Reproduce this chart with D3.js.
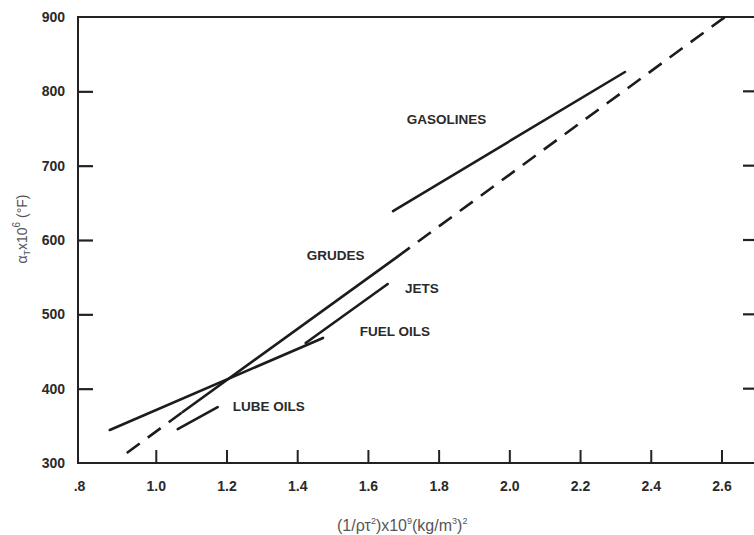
<!DOCTYPE html>
<html>
<head>
<meta charset="utf-8">
<script src="https://cdn.jsdelivr.net/npm/d3@7"></script>
<style>
  body { margin: 0; background: #fff; }
  svg { display: block; }
  .tickLabel { font-family: "Liberation Sans", Arial, sans-serif; font-weight: bold; font-size: 14px; fill: #2a2a2a; }
  .curveLabel { font-family: "Liberation Sans", Arial, sans-serif; font-weight: bold; font-size: 13.5px; fill: #2a2a2a; }
  .axisTitle { font-family: "Liberation Sans", Arial, sans-serif; font-size: 14px; fill: #555; }
</style>
</head>
<body>
<div id="chart"></div>
<script>
// tick values
var xTicks = [0.8, 1.0, 1.2, 1.4, 1.6, 1.8, 2.0, 2.2, 2.4, 2.6];
var yTicks = [300, 400, 500, 600, 700, 800, 900];

// curves, [x, y] in data units
var gasolinesSolid = [[1.671, 639], [2.327, 826]];
var crudesDashLow = [[0.918, 313.5], [1.076, 368.6]];
var crudesSolid = [[1.076, 368.6], [1.682, 577]];
var crudesDashHigh = [[1.682, 577], [2.61, 900]];
var fuelOilsSolid = [[0.870, 344.4], [1.473, 468.2]];
var jetsSolid = [[1.424, 461.4], [1.656, 540.8]];
var lubeOilsSolid = [[1.062, 345.7], [1.175, 375.3]];

var curveNames = ["GASOLINES", "GRUDES", "JETS", "FUEL OILS", "LUBE OILS"];
var curveNameX = [1.710, 1.427, 1.705, 1.577, 1.218];
var curveNameY = [756, 573, 528.7, 470.9, 370];

var width = 754, height = 535;
var plotLeft = 78, plotTop = 17, plotRight = 754, plotBottom = 463;

var svg = d3.select("#chart").append("svg")
    .attr("width", width)
    .attr("height", height);

var x = d3.scaleLinear().domain([0.78, 2.692]).range([plotLeft, plotRight]);
var y = d3.scaleLinear().domain([300, 900]).range([plotBottom, plotTop]);

// bottom axis, ticks point inward
var xAxis = d3.axisBottom(x)
    .tickValues(xTicks)
    .tickSize(-13)
    .tickSizeOuter(0)
    .tickPadding(18)
    .tickFormat(function(d) { return d < 1 ? ".8" : d.toFixed(1); });

var gx = svg.append("g")
    .attr("transform", "translate(0," + plotBottom + ")")
    .call(xAxis);
gx.select(".domain").remove();
gx.selectAll(".tick line").attr("stroke", "#222").attr("stroke-width", 2)
    .filter(function(d) { return d < 1; }).remove();
gx.selectAll(".tick text").attr("class", "tickLabel")
    .attr("dx", function(d) { return d < 1 ? -6 : 0; });

// left axis
var yAxis = d3.axisLeft(y)
    .tickValues(yTicks)
    .tickSize(-15)
    .tickSizeOuter(0)
    .tickPadding(13);

var gy = svg.append("g")
    .attr("transform", "translate(" + plotLeft + ",0)")
    .call(yAxis);
gy.select(".domain").remove();
gy.selectAll(".tick line").attr("stroke", "#222").attr("stroke-width", 2.2)
    .filter(function(d) { return d == 300 || d == 900; }).remove();
gy.selectAll(".tick text").attr("class", "tickLabel");

// right side ticks (axis itself is off the edge)
svg.append("g").selectAll("line")
    .data(yTicks.filter(function(d) { return d > 300 && d < 900; }))
    .enter()
    .append("line")
    .attr("x1", plotRight - 11)
    .attr("x2", plotRight)
    .attr("y1", function(d) { return y(d); })
    .attr("y2", function(d) { return y(d); })
    .attr("stroke", "#222")
    .attr("stroke-width", 2.2);

// frame: left, bottom, top
svg.append("path")
    .attr("d", "M" + plotRight + "," + plotTop + "H" + plotLeft + "V" + plotBottom + "H" + plotRight)
    .attr("fill", "none")
    .attr("stroke", "#222")
    .attr("stroke-width", 2);

var line = d3.line()
    .x(function(d) { return x(d[0]); })
    .y(function(d) { return y(d[1]); });

var solids = [gasolinesSolid, crudesSolid, fuelOilsSolid, jetsSolid, lubeOilsSolid];
var dashed = [crudesDashLow, crudesDashHigh];

svg.append("g").selectAll("path")
    .data(solids)
    .enter()
    .append("path")
    .attr("d", line)
    .attr("fill", "none")
    .attr("stroke", "#1c1c1c")
    .attr("stroke-width", 2.6)
    .attr("stroke-linecap", "round");

svg.append("g").selectAll("path")
    .data(dashed)
    .enter()
    .append("path")
    .attr("d", line)
    .attr("fill", "none")
    .attr("stroke", "#1c1c1c")
    .attr("stroke-width", 2.6)
    .attr("stroke-dasharray", "16,10");

// curve names
svg.append("g").selectAll("text")
    .data(curveNames)
    .enter()
    .append("text")
    .attr("class", "curveLabel")
    .attr("x", function(d, i) { return x(curveNameX[i]); })
    .attr("y", function(d, i) { return y(curveNameY[i]); })
    .text(function(d) { return d; });

// axis titles
var yTitle = svg.append("text")
    .attr("class", "axisTitle")
    .attr("transform", "translate(27,229) rotate(-90)")
    .attr("text-anchor", "middle");
yTitle.append("tspan").text("\u03B1");
yTitle.append("tspan").attr("font-size", "9px").attr("dy", 3).text("T");
yTitle.append("tspan").attr("dy", -3).text("x10");
yTitle.append("tspan").attr("font-size", "10px").attr("dy", -7).text("6");
yTitle.append("tspan").attr("dy", 7).text(" (\u00B0F)");

var xTitle = svg.append("text")
    .attr("class", "axisTitle")
    .style("font-size", "16px")
    .attr("x", 337)
    .attr("y", 531);
xTitle.append("tspan").text("(1/\u03C1\u03C4");
xTitle.append("tspan").attr("font-size", "9px").attr("dy", -7).text("2");
xTitle.append("tspan").attr("dy", 7).text(")x10");
xTitle.append("tspan").attr("font-size", "9px").attr("dy", -7).text("9");
xTitle.append("tspan").attr("dy", 7).text("(kg/m");
xTitle.append("tspan").attr("font-size", "9px").attr("dy", -7).text("3");
xTitle.append("tspan").attr("dy", 7).text(")");
xTitle.append("tspan").attr("font-size", "9px").attr("dy", -7).text("2");
</script>
</body>
</html>
